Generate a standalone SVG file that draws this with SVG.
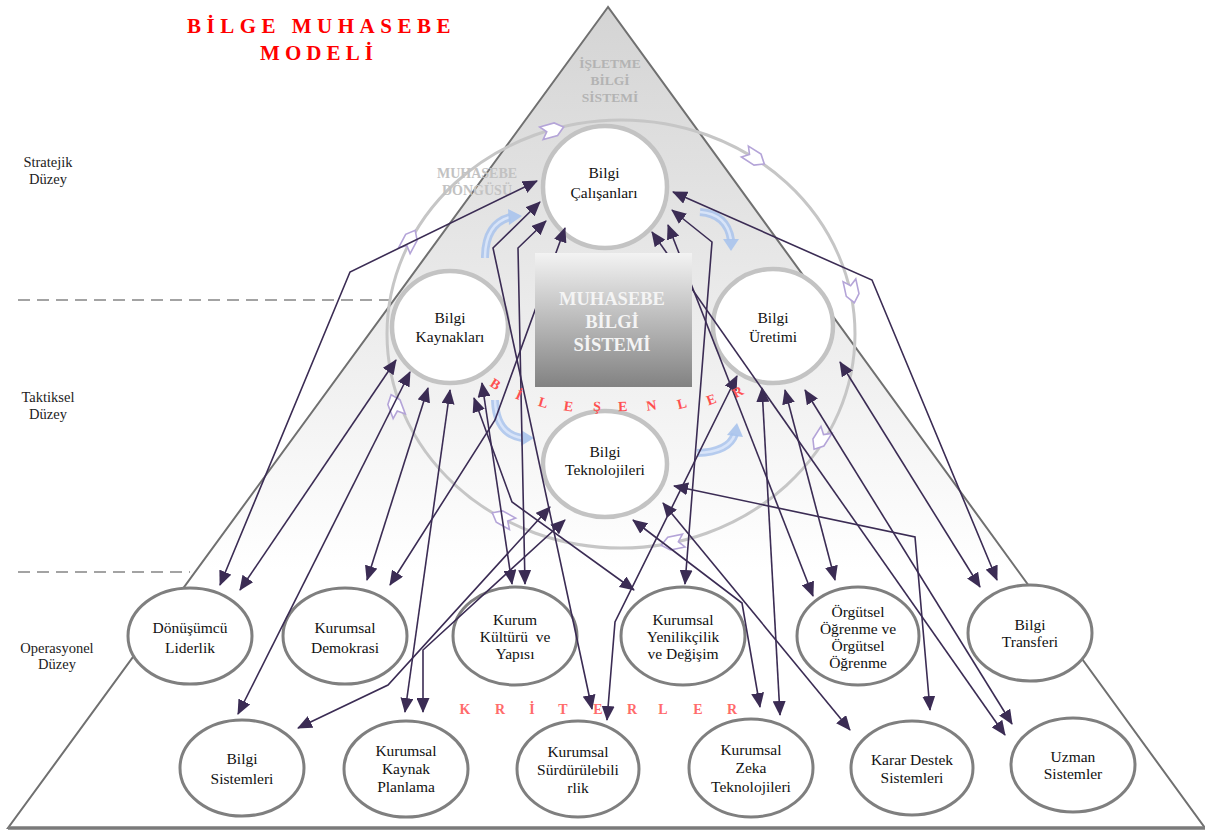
<svg xmlns="http://www.w3.org/2000/svg" width="1205" height="830" viewBox="0 0 1205 830">
<defs>
<linearGradient id="triGrad" gradientUnits="userSpaceOnUse" x1="0" y1="8" x2="0" y2="570">
<stop offset="0" stop-color="#d4d4d4"/>
<stop offset="1" stop-color="#ffffff"/>
</linearGradient>
<linearGradient id="boxGrad" x1="0" y1="0" x2="0" y2="1">
<stop offset="0" stop-color="#f3f3f3"/>
<stop offset="1" stop-color="#828282"/>
</linearGradient>
<marker id="ah" markerUnits="userSpaceOnUse" markerWidth="15" markerHeight="13" viewBox="0 0 15 13" refX="14" refY="6.5" orient="auto-start-reverse">
<path d="M0,0 L15,6.5 L0,13 Z" fill="#3b2c54"/>
</marker>
<path id="chev" d="M-12,-6.5 L3,-6.5 L11,0 L3,6.5 L-12,6.5 L-6.5,0 Z"/>
</defs>
<style>
.lbl{font-family:"Liberation Serif","Times New Roman",serif;font-size:14.5px;fill:#222;text-anchor:middle}
.nt{font-family:"Liberation Serif","Times New Roman",serif;font-size:15.5px;fill:#111;text-anchor:middle}
.crit ellipse{fill:#fff;stroke:#7f7f7f;stroke-width:3}
.comp ellipse{fill:#fff;stroke:#c3c3c3;stroke-width:4.5}
.conn path{fill:none;stroke:#3b2c54;stroke-width:1.6;marker-start:url(#ah);marker-end:url(#ah)}
.chev use{fill:#fff;stroke:#b4a4d8;stroke-width:1.6}
.blue .band{fill:none;stroke:#a9c3ec;stroke-width:8;stroke-linecap:butt;opacity:0.85}
.blue .core{fill:none;stroke:#dce7f9;stroke-width:2.5;opacity:0.9}
.blue polygon{fill:#a9c3ec;opacity:0.9}
.gray{font-family:"Liberation Serif","Times New Roman",serif;font-weight:bold;text-anchor:middle}
.redarc{font-family:"Liberation Serif","Times New Roman",serif;font-size:14px;font-weight:bold;fill:#ff5050;text-anchor:middle}
.redk{font-family:"Liberation Serif","Times New Roman",serif;font-size:14px;font-weight:bold;fill:#ff6b6b;text-anchor:middle}
.title{font-family:"Liberation Serif","Times New Roman",serif;font-size:21px;font-weight:bold;fill:#ff0000}
.dash{stroke:#a3a3a3;stroke-width:2.2;stroke-dasharray:12 7;fill:none}
</style>
<rect x="0" y="0" width="1205" height="830" fill="#ffffff"/>

<!-- pyramid -->
<g id="pyramid">
<polygon points="608,7 8,828 1205,828" fill="url(#triGrad)" stroke="#707070" stroke-width="2"/>
<line x1="8" y1="828" x2="1205" y2="828" stroke="#7a7a7a" stroke-width="3.5"/>
</g>

<!-- level separators -->
<g id="levels">
<line class="dash" x1="18" y1="300" x2="392" y2="300"/>
<line class="dash" x1="18" y1="572" x2="190" y2="572"/>
<text class="lbl" x="48" y="167">Stratejik</text>
<text class="lbl" x="48" y="184">Düzey</text>
<text class="lbl" x="48" y="402">Taktiksel</text>
<text class="lbl" x="48" y="419">Düzey</text>
<text class="lbl" x="57" y="653">Operasyonel</text>
<text class="lbl" x="57" y="669">Düzey</text>
</g>

<!-- title -->
<g id="title">
<text class="title" x="187" y="33" letter-spacing="5.5">BİLGE MUHASEBE</text>
<text class="title" x="260" y="60" letter-spacing="5.1">MODELİ</text>
</g>

<g id="isletme-label">
<text class="gray" x="610" y="68" font-size="13.5" fill="#b3b3b3">İŞLETME</text>
<text class="gray" x="610" y="85" font-size="13.5" fill="#b3b3b3">BİLGİ</text>
<text class="gray" x="610" y="102" font-size="13.5" fill="#b3b3b3">SİSTEMİ</text>
</g>

<!-- accounting cycle -->
<g id="muhasebe-dongusu">
<ellipse cx="621" cy="334" rx="234" ry="214" fill="none" stroke="#c6c6c6" stroke-width="3"/>
<text class="gray" x="477" y="178" font-size="14" fill="#c2c2c2">MUHASEBE</text>
<text class="gray" x="477" y="195" font-size="14" fill="#c2c2c2">DÖNGÜSÜ</text>
<g class="chev">
<use href="#chev" transform="translate(553,130) rotate(-15.5)"/>
<use href="#chev" transform="translate(755,158) rotate(32.6)"/>
<use href="#chev" transform="translate(852,292) rotate(77.7)"/>
<use href="#chev" transform="translate(820,440) rotate(122.5)"/>
<use href="#chev" transform="translate(672,543) rotate(168.5)"/>
<use href="#chev" transform="translate(502,518) rotate(208.5)"/>
<use href="#chev" transform="translate(395,405) rotate(249.4)"/>
<use href="#chev" transform="translate(410,240) rotate(298)"/>
</g>
</g>

<!-- blue curved arrows -->
<g id="cycle-arrows" class="blue">
<path class="band" d="M485,258 Q485,224 510,217"/>
<path class="core" d="M485,258 Q485,224 510,217"/>
<polygon points="508,209 522,216 509,225"/>
<path class="band" d="M700,212 Q727,214 731,240"/>
<path class="core" d="M700,212 Q727,214 731,240"/>
<polygon points="723,239 739,239 731,251"/>
<path class="band" d="M495,400 Q496,434 522,438"/>
<path class="core" d="M495,400 Q496,434 522,438"/>
<polygon points="521,430 534,438 521,446"/>
<path class="band" d="M697,453 Q729,452 735,434"/>
<path class="core" d="M697,453 Q729,452 735,434"/>
<polygon points="727,435 737,423 743,437"/>
</g>

<!-- component nodes -->
<g id="bilgi-calisanlari" class="comp">
<ellipse cx="605" cy="187" rx="62" ry="61"/>
<text class="nt" x="604" y="178">Bilgi</text>
<text class="nt" x="604" y="198">Çalışanları</text>
</g>
<g id="bilgi-kaynaklari" class="comp">
<ellipse cx="450" cy="327" rx="58" ry="56"/>
<text class="nt" x="450" y="323">Bilgi</text>
<text class="nt" x="450" y="342">Kaynakları</text>
</g>
<g id="bilgi-uretimi" class="comp">
<ellipse cx="773" cy="326" rx="60" ry="57"/>
<text class="nt" x="773" y="323">Bilgi</text>
<text class="nt" x="773" y="342">Üretimi</text>
</g>
<g id="bilgi-teknolojileri" class="comp">
<ellipse cx="605" cy="464" rx="62" ry="53"/>
<text class="nt" x="605" y="457">Bilgi</text>
<text class="nt" x="605" y="475">Teknolojileri</text>
</g>

<!-- criteria nodes -->
<g id="donusumcu-liderlik" class="crit">
<ellipse cx="190" cy="636" rx="62" ry="48"/>
<text class="nt" x="190" y="633">Dönüşümcü</text>
<text class="nt" x="190" y="653">Liderlik</text>
</g>
<g id="kurumsal-demokrasi" class="crit">
<ellipse cx="345" cy="636" rx="62" ry="48"/>
<text class="nt" x="345" y="633">Kurumsal</text>
<text class="nt" x="345" y="653">Demokrasi</text>
</g>
<g id="kurum-kulturu" class="crit">
<ellipse cx="515" cy="636" rx="62" ry="49"/>
<text class="nt" x="515" y="625">Kurum</text>
<text class="nt" x="515" y="642" xml:space="preserve">Kültürü  ve</text>
<text class="nt" x="515" y="659">Yapısı</text>
</g>
<g id="kurumsal-yenilikcilik" class="crit">
<ellipse cx="683" cy="636" rx="62" ry="49"/>
<text class="nt" x="683" y="625">Kurumsal</text>
<text class="nt" x="683" y="642">Yenilikçilik</text>
<text class="nt" x="683" y="659">ve Değişim</text>
</g>
<g id="orgutsel-ogrenme" class="crit">
<ellipse cx="858" cy="636" rx="61" ry="49"/>
<text class="nt" x="858" y="617">Örgütsel</text>
<text class="nt" x="858" y="634">Öğrenme ve</text>
<text class="nt" x="858" y="651">Örgütsel</text>
<text class="nt" x="858" y="668">Öğrenme</text>
</g>
<g id="bilgi-transferi" class="crit">
<ellipse cx="1030" cy="633" rx="62" ry="48"/>
<text class="nt" x="1030" y="630">Bilgi</text>
<text class="nt" x="1030" y="647">Transferi</text>
</g>
<g id="bilgi-sistemleri" class="crit">
<ellipse cx="242" cy="768" rx="62" ry="48"/>
<text class="nt" x="242" y="764">Bilgi</text>
<text class="nt" x="242" y="784">Sistemleri</text>
</g>
<g id="kurumsal-kaynak-planlama" class="crit">
<ellipse cx="406" cy="769" rx="62" ry="48"/>
<text class="nt" x="406" y="756">Kurumsal</text>
<text class="nt" x="406" y="774">Kaynak</text>
<text class="nt" x="406" y="792">Planlama</text>
</g>
<g id="kurumsal-surdurulebilirlik" class="crit">
<ellipse cx="578" cy="769" rx="61" ry="48"/>
<text class="nt" x="578" y="757">Kurumsal</text>
<text class="nt" x="578" y="775">Sürdürülebili</text>
<text class="nt" x="578" y="793">rlik</text>
</g>
<g id="kurumsal-zeka" class="crit">
<ellipse cx="751" cy="768" rx="62" ry="49"/>
<text class="nt" x="751" y="755">Kurumsal</text>
<text class="nt" x="751" y="773">Zeka</text>
<text class="nt" x="751" y="792">Teknolojileri</text>
</g>
<g id="karar-destek" class="crit">
<ellipse cx="912" cy="768" rx="61" ry="47"/>
<text class="nt" x="912" y="765">Karar Destek</text>
<text class="nt" x="912" y="783">Sistemleri</text>
</g>
<g id="uzman-sistemler" class="crit">
<ellipse cx="1073" cy="765" rx="62" ry="47"/>
<text class="nt" x="1073" y="762">Uzman</text>
<text class="nt" x="1073" y="779">Sistemler</text>
</g>

<!-- KRİTERLER -->
<g id="kriterler">
<text class="redk" x="465" y="714">K</text>
<text class="redk" x="500" y="714">R</text>
<text class="redk" x="532" y="714">İ</text>
<text class="redk" x="563" y="714">T</text>
<text class="redk" x="598" y="714">E</text>
<text class="redk" x="632" y="714">R</text>
<text class="redk" x="663" y="714">L</text>
<text class="redk" x="698" y="714">E</text>
<text class="redk" x="732" y="714">R</text>
</g>

<!-- connectors -->
<g id="connectors" class="conn">
<path d="M537,181 L350,272 L220,585"/>
<path d="M396,360 L240,590"/>
<path d="M428,388 L367,580"/>
<path d="M565,228 L495,420 L390,585"/>
<path d="M410,372 L238,714"/>
<path d="M550,507 L388,685 L298,728"/>
<path d="M565,520 L423,650 L423,712"/>
<path d="M450,390 L405,712"/>
<path d="M540,202 L493,248 L592,709"/>
<path d="M737,376 L615,622 L607,720"/>
<path d="M546,221 L518,248 L525,584"/>
<path d="M482,383 L512,584"/>
<path d="M474,398 L512,502 L634,590"/>
<path d="M673,192 L872,280 L997,580"/>
<path d="M672,210 L712,242 L685,584"/>
<path d="M668,225 L813,596"/>
<path d="M652,232 L1005,735"/>
<path d="M762,388 L780,715"/>
<path d="M785,390 L835,580"/>
<path d="M805,390 L1012,724"/>
<path d="M840,362 L980,587"/>
<path d="M633,520 L742,603 L760,707"/>
<path d="M663,503 L850,730"/>
<path d="M674,486 L915,537 L930,710"/>
</g>

<!-- central box -->
<g id="muhasebe-bilgi-sistemi">
<rect x="535" y="253" width="157" height="134" fill="url(#boxGrad)"/>
<text class="gray" x="612" y="305" font-size="18.5" fill="#f4f4f4">MUHASEBE</text>
<text class="gray" x="612" y="328" font-size="18.5" fill="#f4f4f4">BİLGİ</text>
<text class="gray" x="612" y="351" font-size="18.5" fill="#f4f4f4">SİSTEMİ</text>
</g>

<!-- BİLEŞENLER arc -->
<g id="bilesenler">
<text class="redarc" transform="translate(493,388) rotate(32)">B</text>
<text class="redarc" transform="translate(517,399) rotate(24)">İ</text>
<text class="redarc" transform="translate(542,407) rotate(16)">L</text>
<text class="redarc" transform="translate(568,411) rotate(8)">E</text>
<text class="redarc" transform="translate(597,411) rotate(2)">Ş</text>
<text class="redarc" transform="translate(623,411) rotate(-2)">E</text>
<text class="redarc" transform="translate(652,410) rotate(-8)">N</text>
<text class="redarc" transform="translate(683,408) rotate(-14)">L</text>
<text class="redarc" transform="translate(713,404) rotate(-20)">E</text>
<text class="redarc" transform="translate(740,396) rotate(-28)">R</text>
</g>
</svg>
